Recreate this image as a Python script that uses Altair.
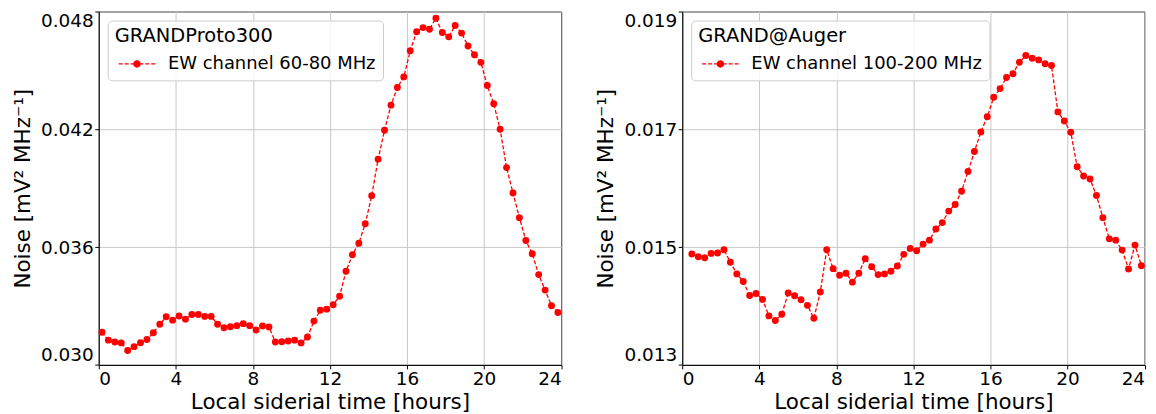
import altair as alt
import pandas as pd

FONT = "DejaVu Sans"

# ---------------- data ----------------
hours_proto = [0.167, 0.5, 0.833, 1.167, 1.5, 1.833, 2.167, 2.5, 2.833, 3.167, 3.5, 3.833,
               4.167, 4.5, 4.833, 5.167, 5.5, 5.833, 6.167, 6.5, 6.833, 7.167, 7.5, 7.833,
               8.167, 8.5, 8.833, 9.167, 9.5, 9.833, 10.167, 10.5, 10.833, 11.167, 11.5, 11.833,
               12.167, 12.5, 12.833, 13.167, 13.5, 13.833, 14.167, 14.5, 14.833, 15.167, 15.5, 15.833,
               16.167, 16.5, 16.833, 17.167, 17.5, 17.833, 18.167, 18.5, 18.833, 19.167, 19.5, 19.833,
               20.167, 20.5, 20.833, 21.167, 21.5, 21.833, 22.167, 22.5, 22.833, 23.167, 23.5, 23.833]
noise_proto = [0.03166, 0.03126, 0.03117, 0.03112, 0.03073, 0.03093, 0.03113, 0.03129, 0.03164, 0.03207,
               0.03245, 0.03228, 0.03249, 0.03233, 0.03257, 0.03257, 0.03247, 0.03247, 0.03207, 0.03189,
               0.03194, 0.03200, 0.03210, 0.03200, 0.03178, 0.03198, 0.03193, 0.03117, 0.03118, 0.03122,
               0.03126, 0.03112, 0.03142, 0.03223, 0.03278, 0.03284, 0.03306, 0.03350, 0.03477, 0.03561,
               0.03620, 0.03719, 0.03862, 0.04048, 0.04195, 0.04323, 0.04413, 0.04467, 0.04600, 0.04697,
               0.04718, 0.04710, 0.04766, 0.04693, 0.04671, 0.04729, 0.04690, 0.04624, 0.04580, 0.04541,
               0.04423, 0.04330, 0.04200, 0.04005, 0.03876, 0.03750, 0.03634, 0.03566, 0.03460, 0.03381,
               0.03301, 0.03267]

hours_auger = [0.5, 0.833, 1.167, 1.5, 1.833, 2.167, 2.5, 2.833, 3.167, 3.5, 3.833,
               4.167, 4.5, 4.833, 5.167, 5.5, 5.833, 6.167, 6.5, 6.833, 7.167, 7.5, 7.833,
               8.167, 8.5, 8.833, 9.167, 9.5, 9.833, 10.167, 10.5, 10.833, 11.167, 11.5, 11.833,
               12.167, 12.5, 12.833, 13.167, 13.5, 13.833, 14.167, 14.5, 14.833, 15.167, 15.5, 15.833,
               16.167, 16.5, 16.833, 17.167, 17.5, 17.833, 18.167, 18.5, 18.833, 19.167, 19.5, 19.833,
               20.167, 20.5, 20.833, 21.167, 21.5, 21.833, 22.167, 22.5, 22.833, 23.167, 23.5, 23.833]
noise_auger = [0.014882, 0.014836, 0.014820, 0.014894, 0.014899, 0.014954, 0.014742, 0.014545, 0.014415,
               0.014179, 0.014213, 0.014112, 0.013832, 0.013753, 0.013859, 0.014220, 0.014174, 0.014107,
               0.014011, 0.013792, 0.014237, 0.014954, 0.014634, 0.014523, 0.014557, 0.014405, 0.014557,
               0.014803, 0.014668, 0.014533, 0.014545, 0.014590, 0.014680, 0.014877, 0.014978, 0.014937,
               0.015050, 0.015118, 0.015308, 0.015416, 0.015611, 0.015724, 0.015948, 0.016285, 0.016622,
               0.016954, 0.017212, 0.017544, 0.017691, 0.017881, 0.017944, 0.018139, 0.018252, 0.018206,
               0.018179, 0.018112, 0.018083, 0.017296, 0.017140, 0.016949, 0.016365, 0.016208, 0.016157,
               0.015876, 0.015500, 0.015140, 0.015118, 0.014949, 0.014629, 0.015034, 0.014685]

x_ticks = [0, 4, 8, 12, 16, 20, 24]
y_ticks_proto = [0.030, 0.036, 0.042, 0.048]
y_ticks_auger = [0.013, 0.015, 0.017, 0.019]

titles = ["GRANDProto300", "GRAND@Auger"]
labels = ["EW channel 60-80 MHz", "EW channel 100-200 MHz"]

X_TITLE = "Local siderial time [hours]"
Y_TITLE = "Noise [mV² MHz⁻¹]"

# legend symbol: dashed line with a dot in the middle
LEG_SYMBOL = ("M-3.66,0H-2.86M-2.46,0H-1.66M-1.26,0H-0.46M0.46,0H1.26M1.66,0H2.46M2.86,0H3.66"
              "M-0.62,0A0.62,0.62,0,1,1,0.62,0A0.62,0.62,0,1,1,-0.62,0Z")

W = 463.6
H = 354.3


def panel(times, values, yticks, title, label):
    df = pd.DataFrame({"t": times, "v": values, "s": [label] * len(times)})
    x = alt.X("t:Q",
              scale=alt.Scale(domain=[0, 24], nice=False, zero=False),
              axis=alt.Axis(values=x_ticks, title=X_TITLE, labelFlush=True))
    y = alt.Y("v:Q",
              scale=alt.Scale(domain=[yticks[0], yticks[-1]], nice=False, zero=False),
              axis=alt.Axis(values=yticks, format=".3f", title=Y_TITLE, labelFlush=True))
    line = alt.Chart(df).mark_line(color="#ff0000", strokeDash=[4, 2], strokeWidth=1.3).encode(x=x, y=y)
    pts = alt.Chart(df).mark_point(filled=True, size=48, opacity=1, shape="circle").encode(
        x=x, y=y,
        color=alt.Color("s:N", scale=alt.Scale(domain=[label], range=["#ff0000"]),
                        legend=alt.Legend(
                            title=title, orient="top-left", offset=9, padding=7,
                            strokeColor="#cccccc", fillColor="rgba(255,255,255,0.85)", cornerRadius=4,
                            titleFont=FONT, titleFontSize=19.5, titleFontWeight="normal",
                            titleColor="black", titlePadding=8, titleLimit=600,
                            labelFont=FONT, labelFontSize=18, labelColor="black", labelOffset=22,
                            labelLimit=600,
                            symbolType=LEG_SYMBOL, symbolSize=100, symbolOffset=13.3,
                            symbolFillColor="#ff0000", symbolStrokeColor="#ff0000",
                            symbolStrokeWidth=1.3, symbolOpacity=1)))
    return alt.layer(line, pts).properties(width=W, height=H)


left = panel(hours_proto, noise_proto, y_ticks_proto, titles[0], labels[0])
right = panel(hours_auger, noise_auger, y_ticks_auger, titles[1], labels[1])

chart = alt.hconcat(left, right, spacing=33).resolve_scale(color="independent").properties(
    padding={"left": 4, "top": 2, "right": 2, "bottom": 0}
).configure_view(
    stroke="black", strokeWidth=1
).configure_axis(
    labelFont=FONT, labelFontSize=18.5, labelColor="black",
    titleFont=FONT, titleFontSize=21.5, titleFontWeight="normal", titleColor="black",
    domainColor="black", domainWidth=1, tickColor="black", tickSize=4, tickWidth=1,
    gridColor="#c8c8c8", gridWidth=1,
).configure_axisY(
    labelPadding=1.5, titlePadding=6
).configure_axisX(
    labelPadding=1, titlePadding=3
)

chart.save("out.html", embed_options={"renderer": "svg", "actions": False})
